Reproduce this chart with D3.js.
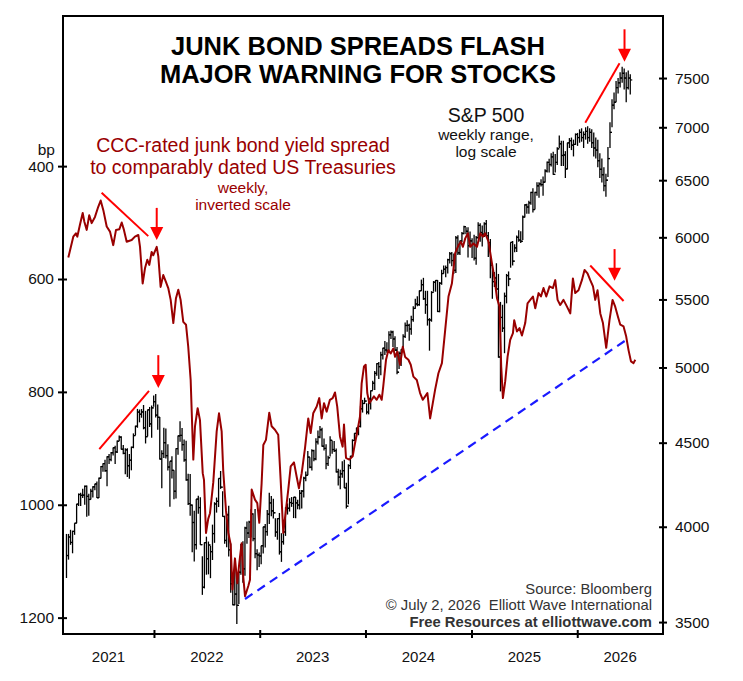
<!DOCTYPE html>
<html>
<head>
<meta charset="utf-8">
<script src="https://cdn.jsdelivr.net/npm/d3@7"></script>
<style>
   body { margin: 0; background: #fff; }
   svg text { font-family: "Liberation Sans", Arial, sans-serif; }
</style>
</head>
<body>
<script>
"use strict"

// S&P 500 weekly bars, one per Friday from 2021-03-05 to 2026-07-03
const spxHigh = [
   3960,3960,3983,3978,4020,4130,4191,4195,4218,4238,4238,4190,4218,4234,4249,4262,4286,4356,4372,4393,4415,4429,4441,4470,4481,4513,4545,4540,4486,4465,4465,4429,4475,4559,4608,4718,4714,4717,4744,4705,4713,4731,4740,4808,
   4818,4748,4665,4453,4595,4590,4490,4385,4416,4329,4465,4546,4637,4593,4520,4512,4309,4307,4127,4090,4158,4178,4169,3838,3913,3945,3918,3895,4012,4140,4167,4280,4325,4204,4062,4077,4120,3907,3736,3806,3712,3762,3905,3919,4000,4029,4034,4100,4076,4101,3876,3858,
   3895,4000,4015,4095,4195,4176,4160,4048,4048,4078,3964,4039,4110,4133,4163,4170,4170,4170,4154,4212,4212,4291,4322,4448,4409,4458,4456,4528,4578,4607,4595,4527,4490,4418,4541,4514,4511,4464,4338,4333,4385,4393,4255,4366,4418,4521,4560,4595,4609,4738,4778,4793,
   4755,4798,4842,4907,4975,5030,5038,5111,5140,5189,5179,5261,5265,5264,5224,5146,5114,5130,5239,5325,5342,5315,5375,5447,5505,5524,5570,5655,5669,5567,5567,5358,5564,5643,5651,5651,5636,5733,5767,5767,5822,5878,5878,5866,6012,6017,5973,6044,6099,6085,6085,6049,
   5993,6021,6011,6128,6120,6101,6127,6147,6044,5986,5782,5715,5786,5700,5481,5459,5553,5700,5720,5958,5969,5943,6016,6059,6051,6187,6284,6290,6316,6395,6427,6395,6481,6482,6508,6533,6600,6672,6699,6750,6765,6744,6807,6920,6870,6870,6770,6850,6895,6900,6880,6940,
   6945,6980,6990,6960,7000,7010,6990,6980,6950,6900,6880,6750,6700,6620,6560,6810,7050,7280,7350,7470,7500,7560,7620,7600,7560,7580,7540
]
const spxLow = [
   3723,3820,3900,3854,3955,4020,4118,4118,4165,4125,4057,4062,4155,4168,4210,4165,4165,4280,4320,4321,4233,4367,4385,4420,4367,4436,4510,4457,4427,4306,4288,4278,4329,4465,4547,4595,4630,4660,4585,4495,4540,4600,4531,4733,
   4662,4582,4395,4222,4405,4401,4328,4114,4279,4157,4161,4424,4506,4450,4381,4267,4124,4062,3859,3810,3875,4073,3900,3636,3669,3740,3742,3722,3818,3911,4080,4112,4218,4057,3906,3887,3837,3647,3584,3584,3491,3590,3740,3698,3735,3906,3938,3940,3919,3827,3764,3781,
   3795,3853,3885,3950,4015,4060,4047,3944,3928,3847,3808,3901,3949,4069,4086,4113,4049,4048,4099,4098,4103,4167,4264,4299,4341,4328,4384,4390,4489,4528,4474,4451,4335,4356,4414,4430,4442,4316,4238,4216,4284,4223,4103,4128,4337,4412,4510,4537,4547,4597,4694,4751,
   4682,4682,4714,4845,4845,4943,4920,4946,5057,5089,5104,5117,5203,5146,5116,4953,4990,5011,5127,5211,5257,5191,5234,5331,5428,5447,5451,5566,5497,5390,5302,5119,5331,5560,5560,5403,5402,5615,5703,5674,5703,5783,5762,5702,5707,5853,5853,5959,6025,6025,5832,5930,
   5829,5809,5773,5992,5962,5923,6003,6008,5837,5666,5505,5597,5572,5069,4835,5255,5101,5470,5603,5750,5768,5875,5878,5963,5952,5977,6170,6201,6201,6281,6212,6239,6360,6343,6443,6360,6480,6570,6570,6625,6550,6570,6640,6800,6630,6630,6520,6600,6800,6780,6720,6830,
   6820,6850,6860,6800,6880,6840,6860,6800,6720,6700,6620,6520,6480,6400,6350,6530,6800,7000,7180,7250,7340,7400,7450,7380,7250,7380,7330
]
const spxClose = [
   3842,3943,3913,3974,4020,4129,4185,4180,4181,4233,4174,4156,4204,4230,4247,4166,4281,4352,4370,4327,4412,4395,4437,4468,4442,4509,4535,4459,4433,4455,4357,4391,4471,4545,4605,4697,4683,4698,4595,4538,4712,4620,4725,4766,
   4677,4663,4398,4432,4500,4419,4349,4385,4329,4204,4463,4543,4546,4488,4393,4272,4132,4123,4024,3901,4158,4109,3901,3675,3912,3825,3899,3863,3962,4130,4145,4280,4228,4058,3924,4067,3873,3693,3586,3640,3583,3753,3901,3771,3993,3965,4026,4072,3934,3852,3845,3840,
   3895,3999,3973,4071,4136,4090,4079,3970,4046,3862,3917,3971,4109,4105,4138,4133,4169,4136,4124,4192,4205,4282,4299,4410,4348,4450,4399,4505,4536,4582,4478,4464,4370,4406,4515,4457,4450,4320,4288,4308,4327,4224,4117,4358,4415,4514,4559,4594,4604,4719,4754,4770,
   4697,4784,4840,4891,4959,5027,5006,5089,5137,5124,5117,5234,5254,5204,5123,4967,5100,5128,5222,5303,5304,5277,5347,5431,5465,5460,5567,5615,5505,5459,5346,5344,5554,5634,5648,5408,5626,5703,5738,5751,5815,5864,5808,5729,5996,5871,5969,6032,6090,6051,5930,5970,
   5942,5827,5997,6101,6041,6026,6115,6013,5955,5770,5639,5668,5581,5074,5363,5283,5525,5687,5660,5958,5803,5912,6000,5977,5967,6173,6279,6260,6297,6389,6238,6389,6449,6466,6460,6482,6584,6664,6644,6716,6553,6664,6792,6840,6729,6734,6603,6849,6870,6827,6834,6930,
   6900,6950,6900,6930,6960,6900,6950,6850,6800,6780,6680,6600,6550,6450,6500,6700,6950,7220,7250,7400,7450,7500,7550,7500,7400,7500,7480
]

// CCC spread, bp (decimal year / value)
const spreadTime = [
   2021.190,2021.237,2021.262,2021.275,2021.300,2021.326,2021.341,2021.364,2021.388,2021.411,2021.442,2021.473,2021.496,2021.521,2021.553,2021.584,2021.615,2021.641,2021.672,2021.695,2021.716,2021.742,2021.789,2021.820,2021.852,2021.868,2021.893,2021.915,2021.937,2021.956,2021.978,2021.993,
   2022.026,2022.041,2022.063,2022.088,2022.113,2022.135,2022.158,2022.183,2022.208,2022.230,2022.252,2022.277,2022.303,2022.324,2022.347,2022.372,2022.388,2022.413,2022.435,2022.461,2022.473,2022.492,2022.513,2022.530,2022.561,2022.593,2022.615,2022.640,2022.655,2022.681,2022.703,2022.725,2022.742,2022.766,2022.788,2022.807,2022.829,2022.844,2022.861,2022.892,2022.908,2022.924,2022.955,2022.977,2022.996,
   2023.018,2023.034,2023.059,2023.090,2023.113,2023.144,2023.175,2023.198,2023.223,2023.248,2023.270,2023.293,2023.324,2023.349,2023.371,2023.397,2023.428,2023.459,2023.482,2023.506,2023.539,2023.563,2023.586,2023.608,2023.633,2023.664,2023.690,2023.712,2023.733,2023.759,2023.784,2023.797,2023.816,2023.847,2023.879,2023.901,2023.926,2023.948,2023.964,2023.986,
   2024.002,2024.017,2024.036,2024.059,2024.080,2024.106,2024.131,2024.153,2024.168,2024.194,2024.216,2024.238,2024.263,2024.279,2024.301,2024.326,2024.352,2024.374,2024.405,2024.427,2024.452,2024.484,2024.515,2024.541,2024.563,2024.584,2024.610,2024.635,2024.657,2024.688,2024.721,2024.752,2024.783,2024.815,2024.846,2024.878,2024.900,2024.919,2024.941,2024.966,2024.988,
   2025.019,2025.052,2025.083,2025.108,2025.130,2025.161,2025.193,2025.215,2025.241,2025.265,2025.281,2025.297,2025.319,2025.341,2025.366,2025.392,2025.404,2025.430,2025.454,2025.477,2025.508,2025.530,2025.556,2025.581,2025.603,2025.634,2025.657,2025.681,2025.707,2025.738,2025.770,2025.792,2025.814,2025.839,2025.870,2025.903,2025.934,2025.959,2025.981,
   2026.012,2026.044,2026.069,2026.097,2026.123,2026.149,2026.170,2026.192,2026.218,2026.243,2026.274,2026.305,2026.334,2026.359,2026.385,2026.407,2026.438,2026.463,2026.485,2026.508,2026.532,2026.549
]
const spreadBp = [
   562,525,519,525,504,483,498,513,487,501,490,472,461,478,507,516,540,513,512,500,513,534,531,525,522,543,608,581,566,575,552,558,
   543,560,614,593,605,616,637,678,634,619,637,676,681,720,779,920,861,829,850,944,956,1050,1025,1015,960,870,838,870,940,1010,1050,1070,1150,1095,1139,1103,1068,1127,1162,1144,1133,973,991,997,1032,
   962,894,885,837,861,867,876,956,1050,1009,973,932,925,950,971,944,900,847,873,838,826,811,847,820,835,814,811,801,826,879,897,858,917,920,914,891,867,844,785,755,
   752,802,820,814,808,814,805,814,790,743,726,732,723,738,729,752,720,738,743,752,773,779,802,814,808,802,847,820,796,767,749,690,631,608,554,540,534,543,528,519,543,
   537,543,519,525,519,534,572,596,634,649,755,811,781,738,708,696,673,693,687,700,678,643,637,631,652,625,631,616,631,613,616,602,637,646,637,649,661,599,625,
   620,602,584,590,602,613,637,620,661,678,722,673,637,649,667,681,684,702,726,746,749,743
]

const bpTicks = [400, 600, 800, 1000, 1200]
const spxTicks = [3500, 4000, 4500, 5000, 5500, 6000, 6500, 7000, 7500]
const yearLabels = [2021, 2022, 2023, 2024, 2025, 2026]

// annotations, in data units: [year, value] pairs
const spreadTrends = [[[2021.505, 447], [2021.946, 524]], [[2026.123, 576], [2026.438, 639]]]
const spxTrends = [[[2021.483, 4460], [2021.953, 4839]], [[2026.076, 7044], [2026.400, 7657]]]
const spreadArrows = [[2022.026, 474, 531], [2026.353, 547, 603]]
const spxArrows = [[2022.041, 5087, 4859], [2026.447, 8030, 7672]]
const supportLine = [[2022.861, 1167], [2026.463, 708]]

const w = 743, h = 681
const padL = 63, padR = 663, padT = 16, padB = 634
const darkRed = '#990000'
const red = '#ff0000'

const toDate = v => {
   const y = Math.floor(v)
   const s = new Date(y, 0, 1), e = new Date(y + 1, 0, 1)
   return new Date(+s + (v - y) * (e - s))
}

const x = d3.scaleTime([new Date(2021, 1, 21), new Date(2026, 9, 24)], [padL, padR])
const yBp = d3.scaleLinear([134, 1229], [padT, padB])
const ySpx = d3.scaleLog([3442, 8181], [padB, padT])

const weeks = d3.timeFriday.range(new Date(2021, 2, 5), new Date(2026, 6, 4))
const n = Math.min(weeks.length, spxHigh.length, spxLow.length, spxClose.length)
// weekly open taken as the prior week's close
const bars = d3.range(n).map(i => ({
   d: weeks[i], hi: spxHigh[i], lo: spxLow[i], c: spxClose[i], o: i > 0 ? spxClose[i - 1] : null
}))
const spread = d3.range(Math.min(spreadTime.length, spreadBp.length))
   .map(i => ({ d: toDate(spreadTime[i]), v: spreadBp[i] }))

let svg = d3.select('body')
   .append('svg')
      .attr('width', w)
      .attr('height', h)

svg.append('rect').attr('width', w).attr('height', h).attr('fill', '#fff')

// axes
const yLeft = svg.append('g')
   .attr('transform', `translate(${padL}, 0)`)
   .call(d3.axisLeft(yBp).tickValues(bpTicks).tickFormat(d3.format('d')).tickSize(5).tickPadding(4))
const yRight = svg.append('g')
   .attr('transform', `translate(${padR}, 0)`)
   .call(d3.axisRight(ySpx).tickValues(spxTicks).tickFormat(d3.format('d')).tickSize(4).tickPadding(8))
const xAxis = svg.append('g')
   .attr('transform', `translate(0, ${padB})`)
   .call(d3.axisBottom(x).tickValues(yearLabels.slice(1).map(y => new Date(y, 0, 1))).tickFormat('').tickSize(4))

for (const g of [yLeft, yRight, xAxis]) {
   g.select('.domain').remove()
   g.selectAll('.tick line').attr('stroke', '#000').attr('stroke-width', 2)
   g.selectAll('.tick text')
      .attr('fill', '#111')
      .style('font-size', '15.5px')
}
yLeft.selectAll('.tick line').attr('x1', 4)
yRight.selectAll('.tick line').attr('x1', -4)
xAxis.selectAll('.tick line').attr('y1', -4)

const [d0, d1] = x.domain()
svg.append('g')
   .selectAll('text')
   .data(yearLabels)
   .enter()
   .append('text')
      .attr('x', y => {
         const s = d3.max([new Date(y, 0, 1), d0]), e = d3.min([new Date(y + 1, 0, 1), d1])
         return (x(s) + x(e)) / 2
      })
      .attr('y', 662)
      .attr('text-anchor', 'middle')
      .attr('fill', '#111')
      .style('font-size', '15px')
      .text(y => y)

svg.append('text')
   .attr('x', 55).attr('y', 155)
   .attr('text-anchor', 'end')
   .attr('fill', '#111')
   .style('font-size', '15.5px')
   .text('bp')

// S&P weekly range bars
const barG = svg.append('g').attr('stroke', '#000')
barG.selectAll('line.bar')
   .data(bars)
   .enter()
   .append('line')
      .attr('class', 'bar')
      .attr('x1', d => x(d.d)).attr('x2', d => x(d.d))
      .attr('y1', d => ySpx(d.hi)).attr('y2', d => ySpx(d.lo))
      .attr('stroke-width', 1.3)
barG.selectAll('line.close')
   .data(bars)
   .enter()
   .append('line')
      .attr('class', 'close')
      .attr('x1', d => x(d.d)).attr('x2', d => x(d.d) + 2)
      .attr('y1', d => ySpx(d.c)).attr('y2', d => ySpx(d.c))
      .attr('stroke-width', 1.2)
barG.selectAll('line.open')
   .data(bars.filter(d => d.o !== null))
   .enter()
   .append('line')
      .attr('class', 'open')
      .attr('x1', d => x(d.d) - 2).attr('x2', d => x(d.d))
      .attr('y1', d => ySpx(d.o)).attr('y2', d => ySpx(d.o))
      .attr('stroke-width', 1.2)

// spread line
svg.append('path')
   .datum(spread)
   .attr('fill', 'none')
   .attr('stroke', darkRed)
   .attr('stroke-width', 2)
   .attr('stroke-linejoin', 'round')
   .attr('d', d3.line().x(d => x(d.d)).y(d => yBp(d.v)))

// blue support line on spread lows
svg.append('line')
   .attr('x1', x(toDate(supportLine[0][0]))).attr('y1', yBp(supportLine[0][1]))
   .attr('x2', x(toDate(supportLine[1][0]))).attr('y2', yBp(supportLine[1][1]))
   .attr('stroke', '#1a1aff')
   .attr('stroke-width', 2.2)
   .attr('stroke-dasharray', '9,6')

// red annotations
const trend = (pts, ys) => svg.append('line')
   .attr('x1', x(toDate(pts[0][0]))).attr('y1', ys(pts[0][1]))
   .attr('x2', x(toDate(pts[1][0]))).attr('y2', ys(pts[1][1]))
   .attr('stroke', red)
   .attr('stroke-width', 2)
spreadTrends.forEach(p => trend(p, yBp))
spxTrends.forEach(p => trend(p, ySpx))

const arrow = (a, ys) => {
   const ax = x(toDate(a[0])), y0 = ys(a[1]), y1 = ys(a[2])
   svg.append('line')
      .attr('x1', ax).attr('x2', ax)
      .attr('y1', y0).attr('y2', y1 - 10)
      .attr('stroke', red)
      .attr('stroke-width', 2)
   svg.append('path')
      .attr('d', `M${ax - 6.5},${y1 - 13}L${ax + 6.5},${y1 - 13}L${ax},${y1}Z`)
      .attr('fill', red)
}
spreadArrows.forEach(a => arrow(a, yBp))
spxArrows.forEach(a => arrow(a, ySpx))

// frame
svg.append('rect')
   .attr('x', padL).attr('y', padT)
   .attr('width', padR - padL).attr('height', padB - padT)
   .attr('fill', 'none')
   .attr('stroke', '#000')
   .attr('stroke-width', 2)

// texts
const label = (t, xx, yy, size, color, opts = {}) => svg.append('text')
   .attr('x', xx).attr('y', yy)
   .attr('text-anchor', opts.anchor || 'middle')
   .attr('fill', color)
   .style('font-size', size)
   .style('font-weight', opts.bold ? 'bold' : 'normal')
   .style('white-space', 'pre')
   .text(t)

label('JUNK BOND SPREADS FLASH', 358, 55, '25.5px', '#000', { bold: true })
label('MAJOR WARNING FOR STOCKS', 358, 83, '25.5px', '#000', { bold: true })

label('CCC-rated junk bond yield spread', 243, 152, '19.5px', darkRed)
label('to comparably dated US Treasuries', 243, 173.5, '19.5px', darkRed)
label('weekly,', 243, 192.5, '15.5px', darkRed)
label('inverted scale', 243, 209.5, '15.5px', darkRed)

label('S&P 500', 486, 121.5, '19.5px', '#111')
label('weekly range,', 486, 139.5, '15.5px', '#111')
label('log scale', 486, 157, '15.5px', '#111')

label('Source: Bloomberg', 652, 593.5, '14.8px', '#333', { anchor: 'end' })
label('\u00a9 July 2, 2026  Elliott Wave International', 652, 610, '14.8px', '#333', { anchor: 'end' })
label('Free Resources at elliottwave.com', 652, 627, '14.8px', '#333', { anchor: 'end', bold: true })
</script>
</body>
</html>
